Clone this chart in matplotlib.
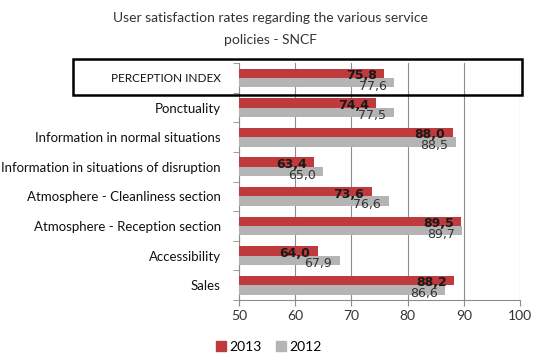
import matplotlib.pyplot as plt
import numpy as np
from matplotlib.patches import Rectangle, Patch

categories = [
    "PERCEPTION INDEX",
    "Ponctuality",
    "Information in normal situations",
    "Information in situations of disruption",
    "Atmosphere - Cleanliness section",
    "Atmosphere - Reception section",
    "Accessibility",
    "Sales",
]
values_2013 = [75.8, 74.4, 88.0, 63.4, 73.6, 89.5, 64.0, 88.2]
values_2012 = [77.6, 77.5, 88.5, 65.0, 76.6, 89.7, 67.9, 86.6]
x_ticks = [50, 60, 70, 80, 90, 100]

RED = "#BE3A3C"
GRAY = "#B4B4B4"
AXIS_GRAY = "#8C8C8C"


def fmt(v):
    return f"{v:.1f}".replace(".", ",")


fig = plt.figure(figsize=(5.38, 3.61), dpi=100)
ax = fig.add_axes([0.444, 0.169, 0.523, 0.656])

y = np.arange(len(categories))
h = 0.32
ax.barh(y - h / 2, values_2013, h, left=0, color=RED, label="2013", zorder=3)
ax.barh(y + h / 2, values_2012, h, left=0, color=GRAY, label="2012", zorder=3)

for i, (a, b) in enumerate(zip(values_2013, values_2012)):
    ax.text(a - 1.3, i - 0.08, fmt(a), ha="right", va="center",
            fontsize=9, fontweight="bold", family="DejaVu Sans",
            color="#1a1a1a", zorder=4)
    ax.text(b - 1.3, i + 0.28, fmt(b), ha="right", va="center",
            fontsize=9, family="DejaVu Sans", color="#333333", zorder=4)

ax.set_xlim(50, 100)
ax.set_ylim(len(categories) - 0.5, -0.5)
ax.set_xticks(x_ticks)
ax.set_xticklabels([str(t) for t in x_ticks], family="Lato", fontsize=10,
                   color="#333333")
ax.set_yticks(y)
ax.set_yticklabels(categories, family="Lato", fontsize=9.5, color="#111111")
ax.get_yticklabels()[0].set_fontsize(8.5)
ax.tick_params(axis="y", length=0, pad=13)
ax.set_yticks(np.arange(len(categories) + 1) - 0.5, minor=True)
ax.tick_params(axis="y", which="minor", length=4, color=AXIS_GRAY, direction="out")
ax.tick_params(axis="x", length=4, color=AXIS_GRAY, direction="out", pad=3)

ax.grid(axis="x", color=AXIS_GRAY, linewidth=0.8, zorder=0)
for side in ("top", "right"):
    ax.spines[side].set_visible(False)
for side in ("left", "bottom"):
    ax.spines[side].set_color(AXIS_GRAY)
    ax.spines[side].set_linewidth(0.8)

fig.text(0.503, 0.95, "User satisfaction rates regarding the various service",
         ha="center", va="center", fontsize=10, family="Lato", color="#333333")
fig.text(0.503, 0.89, "policies - SNCF", ha="center", va="center",
         fontsize=10, family="Lato", color="#333333")

fig.patches.append(Rectangle((0.136, 0.737), 0.835, 0.100, transform=fig.transFigure,
                             fill=False, edgecolor="black", linewidth=1.8))

handles = [Patch(color=RED), Patch(color=GRAY)]
fig.legend(handles, ["2013", "2012"], loc="center", bbox_to_anchor=(0.5, 0.04),
           ncol=2, frameon=False, handlelength=0.7, handleheight=0.7,
           handletextpad=0.3, columnspacing=1.0,
           prop={"family": "Lato", "size": 10})

fig.savefig("out.png", dpi=100)
